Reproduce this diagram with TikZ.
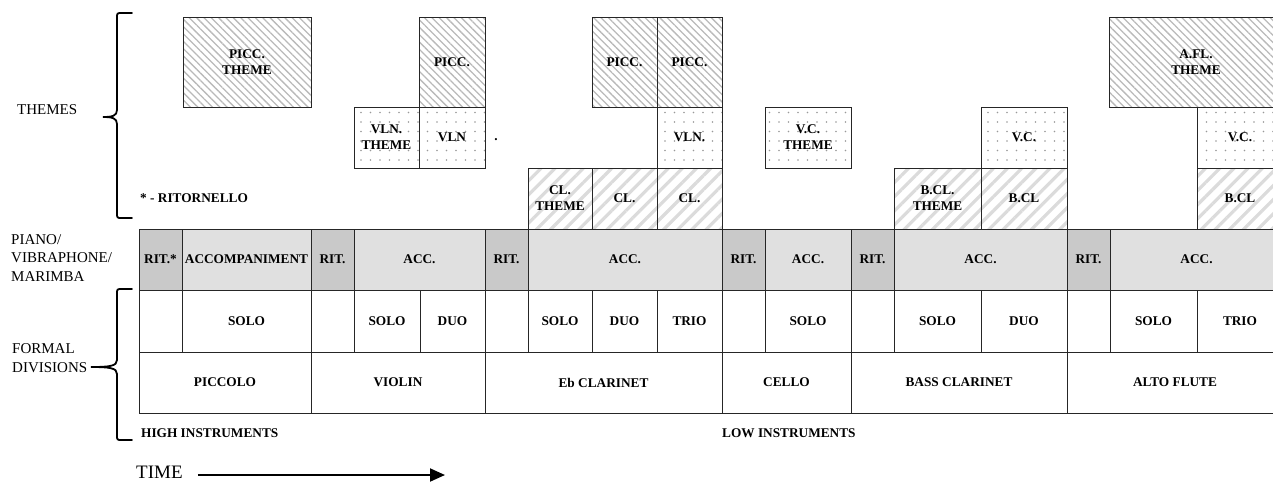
\documentclass[tikz,border=0pt]{standalone}
\usepackage{fontspec}
\setmainfont{Liberation Serif}
\usepackage{tikz}
\usetikzlibrary{patterns.meta}
\usetikzlibrary{arrows.meta}

\definecolor{ritcol}{gray}{0.79}
\definecolor{acccol}{gray}{0.88}

\begin{document}
\begin{tikzpicture}[x=1pt, y=-1pt,
    cell/.style={draw=black!85, line width=0.9pt, inner sep=0pt, align=center, fill=#1,
        font=\fontsize{13.3}{16}\selectfont\bfseries},
    cell/.default=white,
    piccfill/.style={pattern={Lines[angle=-45, distance=5.2pt, line width=1.3pt]}, pattern color=gray!55},
    vlnfill/.style={pattern={Dots[distance=9.5pt, radius=0.8pt]}, pattern color=gray!80},
    clfill/.style={pattern={Lines[angle=45, distance=10pt, line width=3.2pt]}, pattern color=gray!28},
    lab/.style={font=\fontsize{15}{18.5}\selectfont, align=left, inner sep=0pt},
    note/.style={font=\fontsize{13.3}{16}\selectfont\bfseries, inner sep=0pt},
    bracket/.style={line width=1.8pt, line cap=round}]
    \def\ya{17}; % top of the first theme row
    \def\yb{107}; % second theme row
    \def\yc{168}; % third theme row
    \def\yd{229}; % piano row top
    \def\ye{290}; % solo row top
    \def\yf{352}; % instrument row top
    \def\yg{413}; % table bottom
    \def\xr{1283}; % right end, cut by the page

    \useasboundingbox (0,0) rectangle (1273,483);

    % piano row %%%%%%%%%%%%%%%%%%%%%%%%%%%%%%%%%%%%%%%%%%%%%%%%%%%%%%%%%%%%%%%%%%%%%%%%%%%%%%%%%%%%
    \foreach \xa/\xb/\col/\lab [count=\n] in {139/182/ritcol/RIT.*, 182/311/acccol/ACCOMPANIMENT,
        311/354/ritcol/RIT., 354/485/acccol/ACC., 485/528/ritcol/RIT., 528/722/acccol/ACC.,
        722/765/ritcol/RIT., 765/851/acccol/ACC., 851/894/ritcol/RIT., 894/1067/acccol/ACC.,
        1067/1110/ritcol/RIT., 1110/\xr/acccol/ACC.}{
      \node[cell=\col, minimum width={(\xb-\xa)*1pt}, minimum height={(\ye-\yd)*1pt}]
        (p\n) at ({(\xa+\xb)/2},{(\yd+\ye)/2}) {\lab};
    }
    % solo row %%%%%%%%%%%%%%%%%%%%%%%%%%%%%%%%%%%%%%%%%%%%%%%%%%%%%%%%%%%%%%%%%%%%%%%%%%%%%%%%%%%%%
    \foreach \xa/\xb/\lab [count=\n] in {139/182/{}, 182/311/SOLO, 311/354/{}, 354/420/SOLO,
        420/485/DUO, 485/528/{}, 528/592/SOLO, 592/657/DUO, 657/722/TRIO, 722/765/{},
        765/851/SOLO, 851/894/{}, 894/981/SOLO, 981/1067/DUO, 1067/1110/{}, 1110/1197/SOLO,
        1197/\xr/TRIO}{
      \node[cell, minimum width={(\xb-\xa)*1pt}, minimum height={(\yf-\ye)*1pt}]
        (s\n) at ({(\xa+\xb)/2},{(\ye+\yf)/2}) {\lab};
    }
    % instrument row %%%%%%%%%%%%%%%%%%%%%%%%%%%%%%%%%%%%%%%%%%%%%%%%%%%%%%%%%%%%%%%%%%%%%%%%%%%%%%%
    \foreach \xa/\xb/\lab [count=\n] in {139/311/PICCOLO, 311/485/VIOLIN, 485/722/Eb CLARINET,
        722/851/CELLO, 851/1067/BASS CLARINET, 1067/\xr/ALTO FLUTE}{
      \node[cell, minimum width={(\xb-\xa)*1pt}, minimum height={(\yg-\yf)*1pt}]
        (i\n) at ({(\xa+\xb)/2},{(\yf+\yg)/2}) {\lab};
    }

    % themes %%%%%%%%%%%%%%%%%%%%%%%%%%%%%%%%%%%%%%%%%%%%%%%%%%%%%%%%%%%%%%%%%%%%%%%%%%%%%%%%%%%%%%
    \foreach \xa/\xb/\lab [count=\n] in {183/311/{PICC.\\THEME}, 419/485/PICC., 592/657/PICC.,
        657/722/PICC., 1109/\xr/{A.FL.\\THEME}}{
      \node[cell, piccfill, minimum width={(\xb-\xa)*1pt}, minimum height={(\yb-\ya)*1pt}]
        (ta\n) at ({(\xa+\xb)/2},{(\ya+\yb)/2}) {\lab};
    }
    \foreach \xa/\xb/\lab [count=\n] in {354/419/{VLN.\\THEME}, 419/485/VLN, 657/722/VLN.,
        765/851/{V.C.\\THEME}, 981/1067/V.C., 1197/\xr/V.C.}{
      \node[cell, vlnfill, minimum width={(\xb-\xa)*1pt}, minimum height={(\yc-\yb)*1pt}]
        (tb\n) at ({(\xa+\xb)/2},{(\yb+\yc)/2}) {\lab};
    }
    \foreach \xa/\xb/\lab [count=\n] in {528/592/{CL.\\THEME}, 592/657/CL., 657/722/CL.,
        894/981/{B.CL.\\THEME}, 981/1067/B.CL, 1197/\xr/B.CL}{
      \node[cell, clfill, minimum width={(\xb-\xa)*1pt}, minimum height={(\yd-\yc)*1pt}]
        (tc\n) at ({(\xa+\xb)/2},{(\yc+\yd)/2}) {\lab};
    }

    % annotations %%%%%%%%%%%%%%%%%%%%%%%%%%%%%%%%%%%%%%%%%%%%%%%%%%%%%%%%%%%%%%%%%%%%%%%%%%%%%%%%%
    \node[lab, anchor=west] (themes) at (17,110) {THEMES};
    \node[lab, anchor=west] (piano) at (11,258) {PIANO/\\VIBRAPHONE/\\MARIMBA};
    \node[lab, anchor=west] (formal) at (12,358) {FORMAL\\DIVISIONS};
    \node[note, anchor=west] (ritnote) at (140,198) {* - RITORNELLO};
    \node[note] (stray) at (496,140) {.};
    \node[note, anchor=west] (high) at (141,433.5) {HIGH INSTRUMENTS};
    \node[note, anchor=west] (low) at (722,433.5) {LOW INSTRUMENTS};

    % braces %%%%%%%%%%%%%%%%%%%%%%%%%%%%%%%%%%%%%%%%%%%%%%%%%%%%%%%%%%%%%%%%%%%%%%%%%%%%%%%%%%%%%%
    \draw[bracket] (132,13) -- (122,13) .. controls (117,13) .. (117,18) -- (117,110)
        .. controls (117,116) and (112,117) .. (103,117)
        .. controls (112,117) and (117,118) .. (117,124) -- (117,213)
        .. controls (117,218) .. (122,218) -- (132,218);
    \draw[bracket] (132,289) -- (122,289) .. controls (117,289) .. (117,294) -- (117,360)
        .. controls (117,366) and (110,367) .. (91,367)
        .. controls (110,367) and (117,368) .. (117,374) -- (117,435)
        .. controls (117,440) .. (122,440) -- (132,440);

    % time arrow %%%%%%%%%%%%%%%%%%%%%%%%%%%%%%%%%%%%%%%%%%%%%%%%%%%%%%%%%%%%%%%%%%%%%%%%%%%%%%%%%%
    \node[font=\fontsize{19}{20}\selectfont, inner sep=0pt, anchor=west] (time) at (136,472.5) {TIME};
    \coordinate (timeend) at (445,475);
    \draw[line width=2pt, -{Triangle[length=15pt, width=13pt]}] (time.east |- timeend) ++(15,0) -- (timeend);
\end{tikzpicture}
\end{document}
